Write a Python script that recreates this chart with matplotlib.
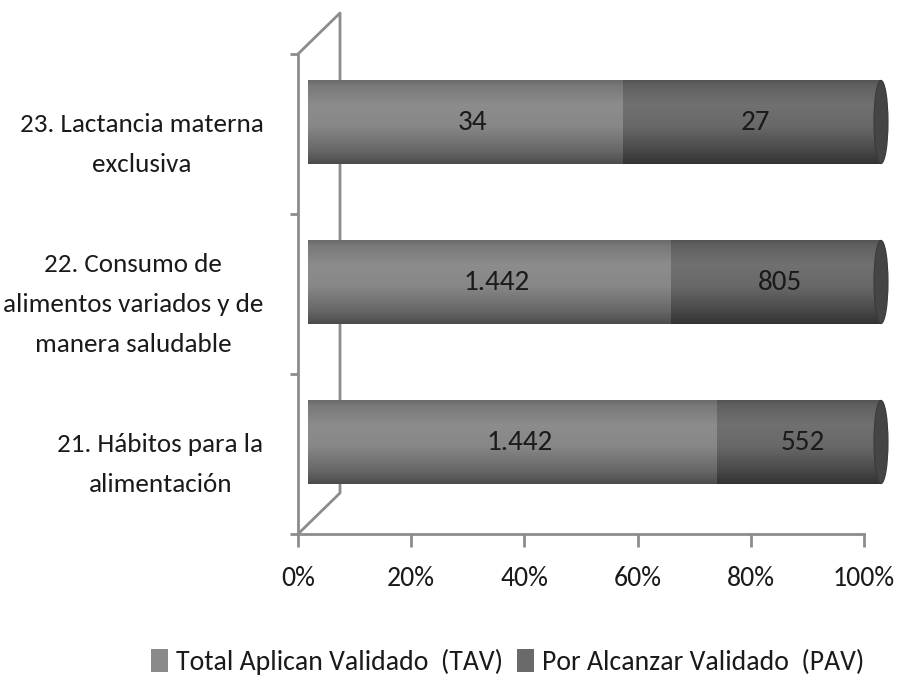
import numpy as np
import matplotlib.pyplot as plt
from matplotlib.patches import Polygon, Ellipse, Patch
from matplotlib.ticker import FixedLocator

plt.rcParams['font.family'] = ['Carlito', 'Liberation Sans', 'DejaVu Sans']

categories = ['21. Hábitos para la\nalimentación',
              '22. Consumo de\nalimentos variados y de\nmanera saludable',
              '23. Lactancia materna\nexclusiva']
tav = [1442, 1442, 34]
pav = [552, 805, 27]
tav_labels = ['1.442', '1.442', '34']
pav_labels = ['552', '805', '27']
x_ticks = [0, 0.2, 0.4, 0.6, 0.8, 1.0]
x_tick_labels = ['0%', '20%', '40%', '60%', '80%', '100%']
legend_labels = ['Total Aplican Validado  (TAV)', 'Por Alcanzar Validado  (PAV)']

fig = plt.figure(figsize=(8.99, 6.8), dpi=100)
W, H = 899, 680
ax = fig.add_axes([298 / W, 1 - 534 / H, (864 - 298) / W, (534 - 54) / H])
ax.set_xlim(0, 1)
ax.set_ylim(-0.5, 2.5)

axis_col = '#8c8c8c'
txt_col = '#1a1a1a'
fs = 20
# 3D offsets
dx_wall, dy_wall = 42 / 566, 41 / 160
dx_bar, dy_bar = 17 / 566, 12 / 160
bar_h = 0.52
ell_w = 7 / 566

# back wall lines
ax.plot([0, dx_wall, dx_wall, 0], [2.5, 2.5 + dy_wall, -0.5 + dy_wall, -0.5],
        color=axis_col, lw=2, clip_on=False, zorder=1)


def profile(keys, vals, n=100):
    t = np.linspace(0, 1, n)
    g = np.interp(t, keys, vals)
    return np.repeat(g[:, None, None], 3, axis=2)


tav_grad = profile([0, 0.06, 0.3, 0.55, 0.85, 1], [0.42, 0.47, 0.55, 0.53, 0.40, 0.30])
pav_grad = profile([0, 0.06, 0.3, 0.55, 0.85, 1], [0.33, 0.38, 0.44, 0.41, 0.28, 0.20])


def segment(x0, x1, yc, grad, z):
    y0, y1 = yc - bar_h / 2, yc + bar_h / 2
    th = np.linspace(np.pi / 2, 3 * np.pi / 2, 40)
    pts = [(x0 + ell_w * np.cos(a), yc + bar_h / 2 * np.sin(a)) for a in th]
    pts += [(x1, y0), (x1, y1)]
    clip = Polygon(pts, closed=True, transform=ax.transData)
    im = ax.imshow(grad, extent=[x0 - ell_w, x1, y0, y1], aspect='auto',
                   interpolation='bilinear', origin='upper', zorder=z, clip_on=False)
    im.set_clip_path(clip)


for i in range(len(categories)):
    total = tav[i] + pav[i]
    f = tav[i] / total
    yc = i + dy_bar
    segment(dx_bar, dx_bar + f, yc, tav_grad, 2)
    segment(dx_bar + f, dx_bar + 1, yc, pav_grad, 3)
    ax.add_patch(Ellipse((dx_bar + 1, yc), 2 * ell_w, bar_h, facecolor='#454545',
                         edgecolor='#3a3a3a', lw=0.8, zorder=4, clip_on=False))
    ax.text(dx_bar + f / 2, yc, tav_labels[i], ha='center', va='center',
            fontsize=fs + 1, color=txt_col, zorder=5)
    ax.text(dx_bar + f + (1 - f) / 2, yc, pav_labels[i], ha='center', va='center',
            fontsize=fs + 1, color=txt_col, zorder=5)

for s in ['top', 'right']:
    ax.spines[s].set_visible(False)
for s in ['left', 'bottom']:
    ax.spines[s].set_color(axis_col)
    ax.spines[s].set_linewidth(2)

ax.xaxis.set_major_locator(FixedLocator(x_ticks))
ax.set_xticklabels(x_tick_labels)
ax.tick_params(axis='x', length=9, width=2, color=axis_col, labelsize=fs, pad=14,
               labelcolor=txt_col)

ax.yaxis.set_major_locator(FixedLocator([-0.5, 0.5, 1.5, 2.5]))
ax.yaxis.set_minor_locator(FixedLocator(range(len(categories))))
ax.set_yticklabels([], minor=False)
ax.set_yticklabels(categories, minor=True, ha='right', multialignment='center',
                   linespacing=1.9)
ax.tick_params(axis='y', which='major', length=6, width=2, color=axis_col)
ax.tick_params(axis='y', which='minor', length=0, labelsize=19.5, pad=25,
               labelcolor=txt_col)

handles = [Patch(facecolor='#8a8a8a'), Patch(facecolor='#6a6a6a')]
fig.legend(handles, legend_labels, loc='center', bbox_to_anchor=(0.565, 1 - 662 / H),
           ncol=2, frameon=False, fontsize=fs, handlelength=0.6, handleheight=0.9,
           handletextpad=0.3, columnspacing=0.5, labelcolor=txt_col)

fig.savefig('out.png', dpi=100)
